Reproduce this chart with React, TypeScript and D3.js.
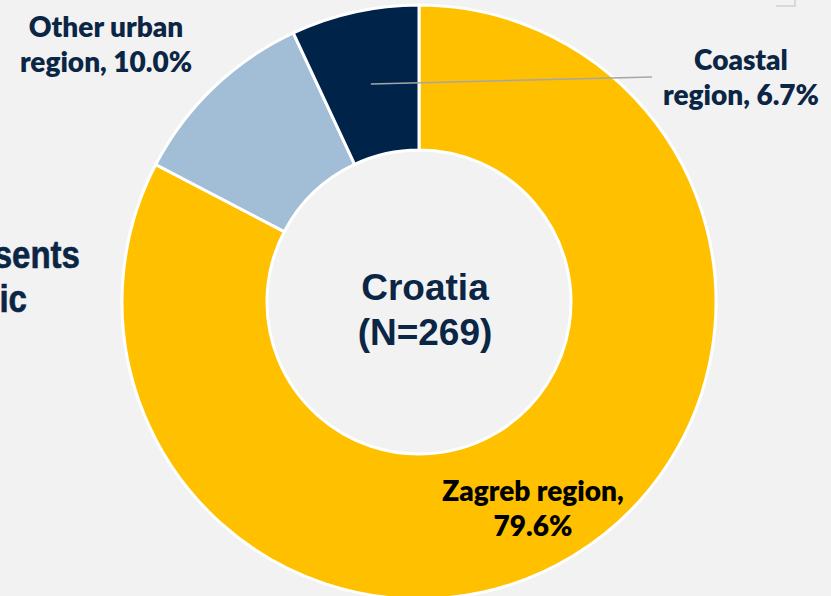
import React from "react";
import * as d3 from "d3";

const categories = ["Zagreb region", "Other urban region", "Coastal region"];
const values = [79.6, 10.0, 6.7];
const labelLines = [["Zagreb region,", "79.6%"], ["Other urban", "region, 10.0%"], ["Coastal", "region, 6.7%"]];
const colors = ["#FFC000", "#A2BDD6", "#002349"];
const centerLines = ["Croatia", "(N=269)"];
const sideText = ["sents", "ic"];

export default function App() {
  const W = 831, H = 596;
  const cx = 419, cy = 302, R = 297, r = 152;
  const data = categories.map((c, i) => ({ c, v: values[i], i }));
  const pie = d3.pie<any>().value((d) => d.v).sort(null)
    .startAngle(0).endAngle(2 * Math.PI);
  const arcs = pie(data);
  const arc = d3.arc<any>().innerRadius(r).outerRadius(R);
  const labelPos = [
    { x: 533, y: 501, fill: "#000000" },
    { x: 106, y: 37, fill: "#0B2545" },
    { x: 741, y: 70, fill: "#0B2545" },
  ];
  const coastal = arcs[2];
  const midA = (coastal.startAngle + coastal.endAngle) / 2;
  const lp = [Math.sin(midA) * 222 + cx, -Math.cos(midA) * 222 + cy];
  const sx = 0.87;
  return (
    <svg width={W} height={H} style={{ position: "absolute", left: 0, top: 0, background: "#F2F2F2" }}>
      <rect x={0} y={0} width={W} height={H} fill="#F2F2F2" />
      <path d="M776,6 H795 V0" fill="none" stroke="#D9D9D9" strokeWidth={2} />
      <g transform={`translate(${cx},${cy})`}>
        {arcs.map((a, i) => (
          <path key={i} d={arc(a) as string} fill={colors[i]} stroke="#FFFFFF" strokeWidth={3} />
        ))}
      </g>
      <line x1={lp[0]} y1={84} x2={652} y2={77} stroke="#A6A6A6" strokeWidth={1.5} />
      {labelLines.map((lines, i) => (
        <text key={i} textAnchor="middle" fontFamily="Lato, 'Open Sans', sans-serif" fontWeight={800} fontSize={28} fill={labelPos[i].fill}>
          {lines.map((l, j) => (
            <tspan key={j} x={labelPos[i].x} y={labelPos[i].y + j * 35}>{l}</tspan>
          ))}
        </text>
      ))}
      <text textAnchor="middle" fontFamily="'Liberation Sans', Arial, sans-serif" fontWeight="bold" fontSize={37} fill="#0B2545">
        {centerLines.map((l, j) => (
          <tspan key={j} x={425} y={300 + j * 45}>{l}</tspan>
        ))}
      </text>
      <g transform={`scale(${sx},1)`}>
        <text textAnchor="end" fontFamily="'Liberation Sans', Arial, sans-serif" fontWeight="bold" fontSize={38} fill="#0B2545" stroke="#0B2545" strokeWidth={0.6}>
          <tspan x={80 / sx} y={268}>{sideText[0]}</tspan>
          <tspan x={27 / sx} y={312}>{sideText[1]}</tspan>
        </text>
      </g>
    </svg>
  );
}
